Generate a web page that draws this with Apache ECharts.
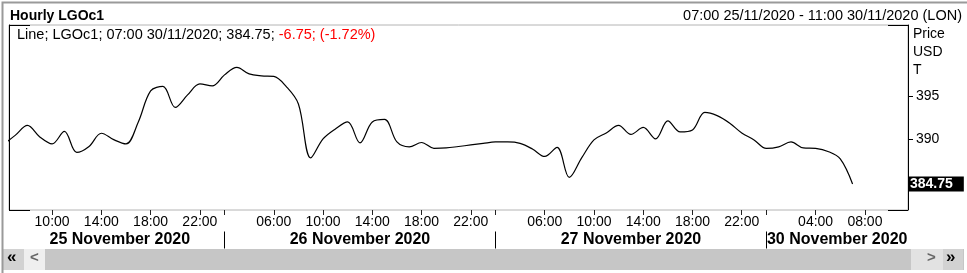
<!DOCTYPE html>
<html><head><meta charset="utf-8">
<script src="https://cdn.jsdelivr.net/npm/echarts@6/dist/echarts.min.js"></script>
<style>html,body{margin:0;padding:0;background:#fff}#c{width:967px;height:273px}</style>
</head><body><div id="c"></div>
<script>
// ---- data ----
const dayNames = ['25 November 2020', '26 November 2020', '27 November 2020', '30 November 2020'];
const nov25Hours = ['06:00','07:00','08:00','09:00','10:00','11:00','12:00','13:00','14:00','15:00','16:00','17:00','18:00','19:00','20:00','21:00','22:00','23:00'];
const nov26Hours = ['00:00','01:00','02:00','05:00','06:00','07:00','08:00','09:00','10:00','11:00','12:00','13:00','14:00','15:00','16:00','17:00','18:00','19:00','20:00','21:00','22:00','23:00'];
const nov27Hours = ['00:00','01:00','02:00','05:00','06:00','07:00','08:00','09:00','10:00','11:00','12:00','13:00','14:00','15:00','16:00','17:00','18:00','19:00','20:00','21:00','22:00','23:00'];
const nov30Hours = ['00:00','01:00','02:00','03:00','04:00','05:00','06:00','07:00','08:00','09:00','10:00','11:00'];
const nov25Labels = ['10:00','14:00','18:00','22:00'];
const nov26Labels = ['06:00','10:00','14:00','18:00','22:00'];
const nov27Labels = ['06:00','10:00','14:00','18:00','22:00'];
const nov30Labels = ['04:00','08:00'];
const priceValues = [
  389.33, 390.45, 391.62, 390.27, 389.45, 390.92, 388.45, 389.15, 390.70, 389.95,
  389.45, 392.03, 395.67, 396.20, 393.73, 395.20, 396.49, 396.26, 397.55, 398.43,
  397.66, 397.43, 397.37, 396.20, 394.14, 387.81, 390.04, 391.21, 392.03, 389.57,
  392.03, 392.32, 389.68, 389.10, 389.62, 388.94, 388.98, 389.15, 389.33, 389.51,
  389.68, 389.68, 389.51, 388.86, 387.98, 389.04, 385.52, 387.81, 389.92, 390.74,
  391.62, 390.56, 391.38, 390.04, 392.15, 390.86, 391.09, 393.15, 392.77, 391.91,
  390.74, 389.92, 388.92, 389.10, 389.68, 388.98, 388.92, 388.57, 387.69, 384.75
];
const prevClose = 391.50;
const yTicks = [390, 395];
const yMin = 381.7, yMax = 403.4;

// ---- build axis helpers ----
const dayHours = [nov25Hours, nov26Hours, nov27Hours, nov30Hours];
const dayLabels = [nov25Labels, nov26Labels, nov27Labels, nov30Labels];
const slots = [];
const boundaries = [];
const labelIdx = [];
const dayCenters = [];
let offset = 0;
const xMin = 0.5;
dayHours.forEach((hrs, d) => {
  if (d > 0) boundaries.push(offset);
  hrs.forEach(h => slots.push(h));
  dayLabels[d].forEach(h => labelIdx.push(offset + hrs.indexOf(h)));
  offset += hrs.length;
});
const xMax = slots.length - 0.5;
const edges = [xMin + 0.5].concat(boundaries).concat([xMax]);
for (let d = 0; d < dayNames.length; d++) dayCenters.push((edges[d] + edges[d + 1]) / 2);

const last = priceValues[priceValues.length - 1];
const chg = last - prevClose;
const pct = chg / prevClose * 100;
const lastIdx = priceValues.length - 1;
const lastDate = '30/11/2020';

const FF = "'Liberation Sans', Arial, sans-serif";
const chart = echarts.init(document.getElementById('c'), null, {renderer: 'canvas'});
chart.setOption({
  animation: false,
  backgroundColor: '#fff',
  textStyle: {fontFamily: FF},
  title: [
    {text: 'Hourly LGOc1', left: 10, top: 8, padding: 0,
     textStyle: {fontFamily: FF, fontSize: 14, fontWeight: 'bold', color: '#000', lineHeight: 16}},
    {text: '07:00 25/11/2020 - 11:00 30/11/2020 (LON)', right: 5, top: 8, padding: 0,
     textStyle: {fontFamily: FF, fontSize: 14.5, fontWeight: 'normal', color: '#000', lineHeight: 16}},
    {text: '{a|Line; LGOc1; ' + slots[lastIdx] + ' ' + lastDate + '; ' + last.toFixed(2) + '; }{b|' +
       chg.toFixed(2) + '; (' + pct.toFixed(2) + '%)}',
     left: 17, top: 27, padding: 0,
     textStyle: {fontFamily: FF, fontSize: 14.5, fontWeight: 'normal', lineHeight: 16,
       rich: {a: {color: '#000', fontSize: 14.5, fontFamily: FF}, b: {color: '#ff0000', fontSize: 14.5, fontFamily: FF}}}}
  ],
  grid: {left: 9, top: 25, width: 899, height: 185, show: true, borderColor: '#b4b4b4', borderWidth: 1},
  xAxis: [
    {type: 'value', min: xMin, max: xMax, position: 'bottom',
     axisLine: {show: false, onZero: false}, splitLine: {show: false},
     axisTick: {show: true, customValues: labelIdx.concat(boundaries), length: 5, lineStyle: {color: '#222'}},
     axisLabel: {customValues: labelIdx, formatter: v => slots[Math.round(v)], fontFamily: FF, fontSize: 14, color: '#000', margin: 5}},
    {type: 'value', min: xMin, max: xMax, position: 'bottom', offset: 21.5,
     axisLine: {show: false, onZero: false}, splitLine: {show: false},
     axisTick: {show: true, customValues: boundaries, length: 17, lineStyle: {color: '#000'}},
     axisLabel: {customValues: dayCenters,
       formatter: v => { let k = 0; dayCenters.forEach((c, i) => { if (Math.abs(c - v) < 0.01) k = i; }); return dayNames[k]; },
       fontFamily: FF, fontSize: 16, fontWeight: 'bold', color: '#000', margin: 0}}
  ],
  yAxis: [
    {type: 'value', position: 'right', min: yMin, max: yMax,
     axisLine: {show: true, onZero: false, lineStyle: {color: '#000'}},
     axisTick: {show: true, customValues: yTicks, length: 5, lineStyle: {color: '#000'}},
     axisLabel: {customValues: yTicks, fontFamily: FF, fontSize: 14, color: '#000', margin: 8},
     splitLine: {show: false}},
    {type: 'value', position: 'left', min: yMin, max: yMax,
     axisLine: {show: true, onZero: false, lineStyle: {color: '#000'}},
     axisTick: {show: false}, axisLabel: {show: false}, splitLine: {show: false}}
  ],
  series: [{
    type: 'line', xAxisIndex: 0, yAxisIndex: 0,
    data: priceValues.map((v, i) => [i, v]),
    smooth: 0.35, symbol: 'none', clip: true,
    lineStyle: {color: '#000', width: 1.2}
  }, {
    type: 'line', xAxisIndex: 0, yAxisIndex: 0, data: [], clip: false, symbol: 'none',
    markLine: {
      silent: true, symbol: 'none', animation: false,
      lineStyle: {color: 'rgba(0,0,0,0)', width: 1},
      data: [{yAxis: last}],
      label: {show: true, position: 'end', distance: 0, formatter: last.toFixed(2),
        backgroundColor: '#000', color: '#fff', fontFamily: FF, fontWeight: 'bold', fontSize: 14,
        padding: [1, 11, 0, 2], lineHeight: 14}
    }
  }],
  graphic: [
    {type: 'rect', left: 0, top: 0, shape: {width: 966, height: 272}, style: {fill: 'none', stroke: '#9a9a9a', lineWidth: 2}, z: 100, silent: true},
    {type: 'text', left: 913, top: 25, style: {text: 'Price\nUSD\nT', font: '14px ' + FF, lineHeight: 18, fill: '#000'}},
    {type: 'line', shape: {x1: 9, y1: 25.5, x2: 30, y2: 25.5}, style: {stroke: '#000', lineWidth: 1}},
    {type: 'line', shape: {x1: 888, y1: 25.5, x2: 908, y2: 25.5}, style: {stroke: '#000', lineWidth: 1}},
    {type: 'line', shape: {x1: 9, y1: 210.5, x2: 30, y2: 210.5}, style: {stroke: '#000', lineWidth: 1}},
    {type: 'line', shape: {x1: 888, y1: 210.5, x2: 908, y2: 210.5}, style: {stroke: '#000', lineWidth: 1}},
    {type: 'rect', shape: {x: 2, y: 249, width: 962, height: 21}, style: {fill: '#c6c6c6'}},
    {type: 'rect', shape: {x: 3, y: 249, width: 21, height: 21}, style: {fill: '#d2d2d2'}},
    {type: 'rect', shape: {x: 24, y: 249, width: 21, height: 21}, style: {fill: '#efefef'}},
    {type: 'rect', shape: {x: 911, y: 249, width: 32, height: 21}, style: {fill: '#e2e2e2'}},
    {type: 'rect', shape: {x: 943, y: 249, width: 20, height: 21}, style: {fill: '#d2d2d2'}},
    {type: 'text', left: 7, top: 249, style: {text: '«', font: 'bold 17px ' + FF, fill: '#000'}},
    {type: 'text', left: 30, top: 250, style: {text: '<', font: 'bold 15px ' + FF, fill: '#666'}},
    {type: 'text', left: 927, top: 250, style: {text: '>', font: 'bold 15px ' + FF, fill: '#666'}},
    {type: 'text', left: 946, top: 249, style: {text: '»', font: 'bold 17px ' + FF, fill: '#000'}}
  ]
});
</script>
</body></html>
